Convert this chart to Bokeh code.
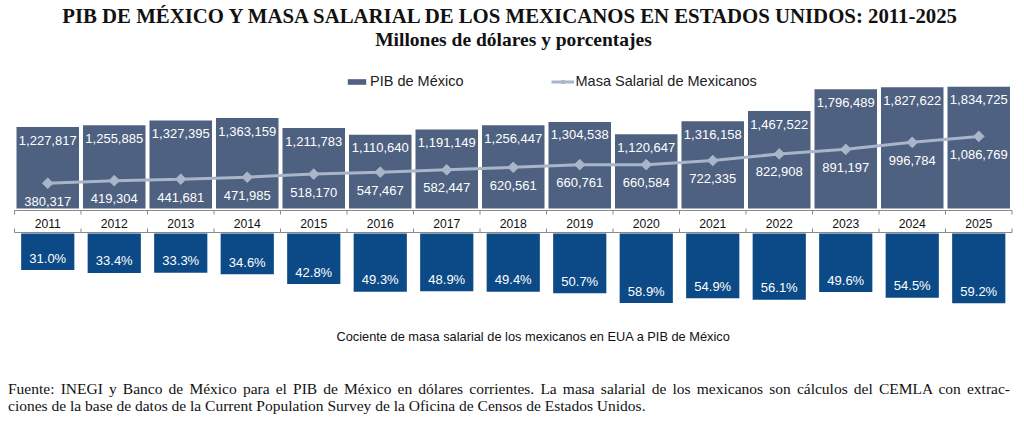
import math
from bokeh.plotting import figure
from bokeh.layouts import column
from bokeh.models import Range1d, Legend, LegendItem, ColumnDataSource, Div
from bokeh.core.properties import value
from bokeh.embed import file_html
from bokeh.resources import INLINE

# ---------------- data ----------------
years = [2011, 2012, 2013, 2014, 2015, 2016, 2017, 2018, 2019, 2020, 2021, 2022, 2023, 2024, 2025]
year_labels = [str(y) for y in years]
pib = [1227817, 1255885, 1327395, 1363159, 1211783, 1110640, 1191149, 1256447,
       1304538, 1120647, 1316158, 1467522, 1796489, 1827622, 1834725]
masa = [380317, 419304, 441681, 471985, 518170, 547467, 582447, 620561,
        660761, 660584, 722335, 822908, 891197, 996784, 1086769]
ratio = [31.0, 33.4, 33.3, 34.6, 42.8, 49.3, 48.9, 49.4, 50.7, 58.9, 54.9, 56.1, 49.6, 54.5, 59.2]

TITLE = "PIB DE MÉXICO Y MASA SALARIAL DE LOS MEXICANOS EN ESTADOS UNIDOS: 2011-2025"
SUBTITLE = "Millones de dólares y porcentajes"
CAPTION = "Cociente de masa salarial de los mexicanos en EUA a PIB de México"
NOTE1 = ("Fuente: INEGI y Banco de México para el PIB de México en dólares corrientes. "
         "La masa salarial de los mexicanos son cálculos del CEMLA con extrac-")
NOTE2 = "ciones de la base de datos de la Current Population Survey de la Oficina de Censos de Estados Unidos."
LEG_PIB = "PIB de México"
LEG_MASA = "Masa Salarial de Mexicanos"

# ---------------- layout constants (pixels) ----------------
W = 1024
FIG_H = 376           # figure height; footnote Div below
NOTE_H = 46
CAT_W = 66.5          # px per category
FIRST_C = 47.25       # px centre of first category
ZERO_TOP = 208        # px (from top) of zero for top chart
UNIT = 15070.0        # value per px for top chart
ZERO_LOW = 233        # px of zero line of lower chart
PCT_PX = 1.18         # px per percentage point

BAR_COL = "#4E6181"
LOW_COL = "#0B4A86"
LINE_COL = "#A9B5C8"
AXIS_COL = "#8A8A8A"

x0 = years[0] - FIRST_C / CAT_W
x1 = x0 + W / CAT_W

p = figure(width=W, height=FIG_H, output_backend="svg", toolbar_location=None,
           x_range=Range1d(x0, x1),
           y_range=Range1d(-(FIG_H - ZERO_TOP) * UNIT, ZERO_TOP * UNIT),
           x_axis_type=None, y_axis_type=None, min_border=0,
           outline_line_color=None, background_fill_color="white",
           border_fill_color="white")
p.extra_y_ranges = {"pct": Range1d(start=(FIG_H - ZERO_LOW) / PCT_PX, end=-ZERO_LOW / PCT_PX),
                    "px": Range1d(start=FIG_H, end=0)}
p.extra_x_ranges = {"px": Range1d(0, W)}

src = ColumnDataSource(dict(
    year=years, pib=pib, masa=masa, ratio=ratio, year_lbl=year_labels,
    pib_lbl=[f"{v:,}" for v in pib],
    masa_lbl=[f"{v:,}" for v in masa],
    ratio_lbl=[f"{v:.1f}%" for v in ratio],
))

SANS = value("Liberation Sans")
SERIF = value("Liberation Serif")

# top bars
r_pib = p.vbar(x="year", top="pib", bottom=0, width=0.94, source=src,
               fill_color=BAR_COL, line_color=None)
# lower bars (ratio, hanging down)
p.vbar(x="year", top="ratio", bottom=0, width=0.8, source=src, y_range_name="pct",
       fill_color=LOW_COL, line_color=None)

# masa salarial line
r_line = p.line(x="year", y="masa", source=src, line_color=LINE_COL, line_width=3)
r_pts = p.scatter(x="year", y="masa", source=src, marker="square", angle=math.pi / 4,
                  size=7.5, fill_color=LINE_COL, line_color=LINE_COL)

# value labels
p.text(x="year", y="pib", text="pib_lbl", source=src, text_align="center",
       text_baseline="middle", y_offset=13, text_color="white",
       text_font=SANS, text_font_size="13px")
p.text(x="year", y="masa", text="masa_lbl", source=src, text_align="center",
       text_baseline="middle", y_offset=18, text_color="white",
       text_font=SANS, text_font_size="13px")
p.text(x="year", y="ratio", text="ratio_lbl", source=src, y_range_name="pct",
       text_align="center", text_baseline="middle", y_offset=-12, text_color="white",
       text_font=SANS, text_font_size="13px")

# category axis lines and ticks
bounds = [y - 0.5 for y in years] + [years[-1] + 0.5]
p.segment(x0=[bounds[0]], y0=210, x1=[bounds[-1]], y1=210, y_range_name="px",
          line_color=AXIS_COL, line_width=1)
p.segment(x0=bounds, y0=210, x1=bounds, y1=214, y_range_name="px",
          line_color=AXIS_COL, line_width=1)
p.segment(x0=[bounds[0]], y0=232, x1=[bounds[-1]], y1=232, y_range_name="px",
          line_color=AXIS_COL, line_width=1)
p.segment(x0=bounds, y0=228, x1=bounds, y1=232, y_range_name="px",
          line_color=AXIS_COL, line_width=1)
p.text(x="year", y=223, text="year_lbl", source=src, y_range_name="px",
       text_align="center", text_baseline="middle", text_color="#111111",
       text_font=SANS, text_font_size="12.2px")

# titles and caption
p.text(x=511, y=15, text=[TITLE], x_range_name="px", y_range_name="px",
       text_align="center", text_baseline="middle", text_color="#111111",
       text_font=SERIF, text_font_size="20.8px", text_font_style="bold")
p.text(x=513, y=39, text=[SUBTITLE], x_range_name="px", y_range_name="px",
       text_align="center", text_baseline="middle", text_color="#111111",
       text_font=SERIF, text_font_size="19.5px", text_font_style="bold")
p.text(x=533, y=336, text=[CAPTION], x_range_name="px", y_range_name="px",
       text_align="center", text_baseline="middle", text_color="#111111",
       text_font=SANS, text_font_size="12.8px")

legend = Legend(items=[LegendItem(label=LEG_PIB, renderers=[r_pib]),
                       LegendItem(label=LEG_MASA, renderers=[r_line, r_pts])],
                orientation="horizontal", location=(345, FIG_H - 89),
                glyph_width=23, glyph_height=7, label_standoff=2, spacing=87,
                padding=0, margin=0, border_line_color=None,
                background_fill_alpha=0, label_text_font="Liberation Sans",
                label_text_font_size="14.5px", label_text_color="#222222")
p.add_layout(legend)

# footnote (first line justified to full width, as in the source)
note_html = (
    '<div style="font-family:\'Liberation Serif\';font-size:15.5px;line-height:17px;'
    'color:#111111;width:1010px;padding:4px 0 0 8px;margin:0;">'
    '<div style="text-align:justify;text-align-last:justify;">' + NOTE1 + '</div>'
    '<div style="text-align:left;">' + NOTE2 + '</div>'
    '</div>'
)
note = Div(text=note_html, width=W, height=NOTE_H, margin=0)

layout = column(p, note, spacing=0)
open("out.html", "w").write(file_html(layout, INLINE))
